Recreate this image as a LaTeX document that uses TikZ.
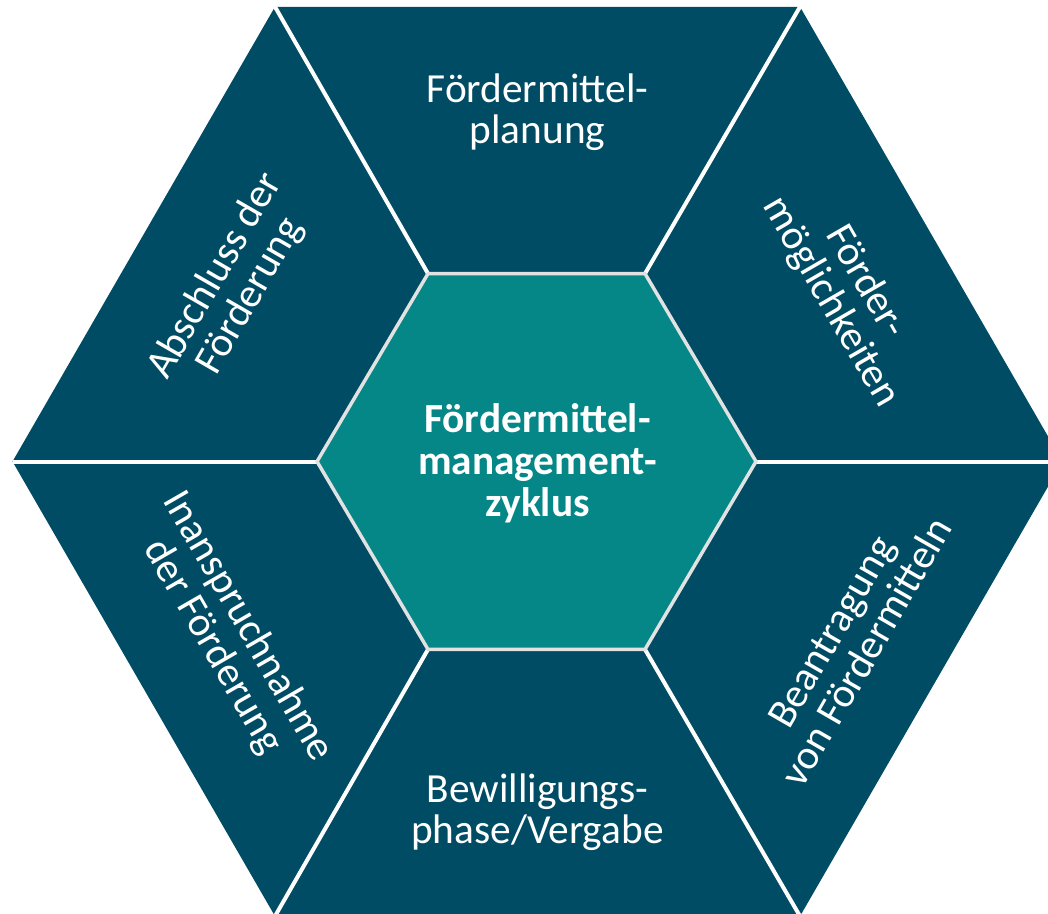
\documentclass[tikz,border=0pt]{standalone}
\usepackage{fontspec}
\setmainfont{Carlito}
\definecolor{segdark}{HTML}{004C64}
\definecolor{coreteal}{HTML}{058788}
\definecolor{corerim}{HTML}{E2E2E2}
\begin{document}
\begin{tikzpicture}[x=0.75pt,y=-0.75pt,
  seglabel/.style={text=white, align=center, inner sep=0pt,
    font=\fontsize{31}{30.5}\selectfont},
  corelabel/.style={text=white, align=center, inner sep=0pt,
    font=\fontsize{31}{31.5}\selectfont\bfseries},
  divider/.style={draw=white, line width=3pt},
  outerhex/.style={fill=segdark},
  innerhex/.style={fill=coreteal, draw=corerim, line width=2.6pt, line join=miter}]
\clip (0,0) rectangle (1048,913);
% outer vertices
\coordinate (O0) at (1062.5,461.5);
\coordinate (O1) at (800,6.8);
\coordinate (O2) at (275,6.8);
\coordinate (O3) at (12.5,461.5);
\coordinate (O4) at (275,916.2);
\coordinate (O5) at (800,916.2);
% inner vertices
\coordinate (I0) at (756,461.5);
\coordinate (I1) at (645,273.6);
\coordinate (I2) at (428,273.6);
\coordinate (I3) at (317,461.5);
\coordinate (I4) at (428,649.4);
\coordinate (I5) at (645,649.4);
\fill[outerhex] (O0) -- (O1) -- (O2) -- (O3) -- (O4) -- (O5) -- cycle;
\foreach \k in {0,...,5} { \draw[divider] (I\k) -- (O\k); }
\draw[innerhex] (I0) -- (I1) -- (I2) -- (I3) -- (I4) -- (I5) -- cycle;
\node[corelabel] (core) at (537.5,463) {Fördermittel-\\management-\\zyklus};
\node[seglabel] (plan) at (537.5,112) {Fördermittel-\\planung};
\node[seglabel, rotate=-60] (moeg) at (848,292) {Förder-\\möglichkeiten};
\node[seglabel, rotate=60] (antrag) at (849,642) {Beantragung\\von Fördermitteln};
\node[seglabel] (bewill) at (537.5,812) {Bewilligungs-\\phase/Vergabe};
\node[seglabel, rotate=-60] (inan) at (230,637) {Inanspruchnahme\\der Förderung};
\node[seglabel, rotate=60] (abschl) at (233,286) {Abschluss der\\Förderung};
\end{tikzpicture}
\end{document}
